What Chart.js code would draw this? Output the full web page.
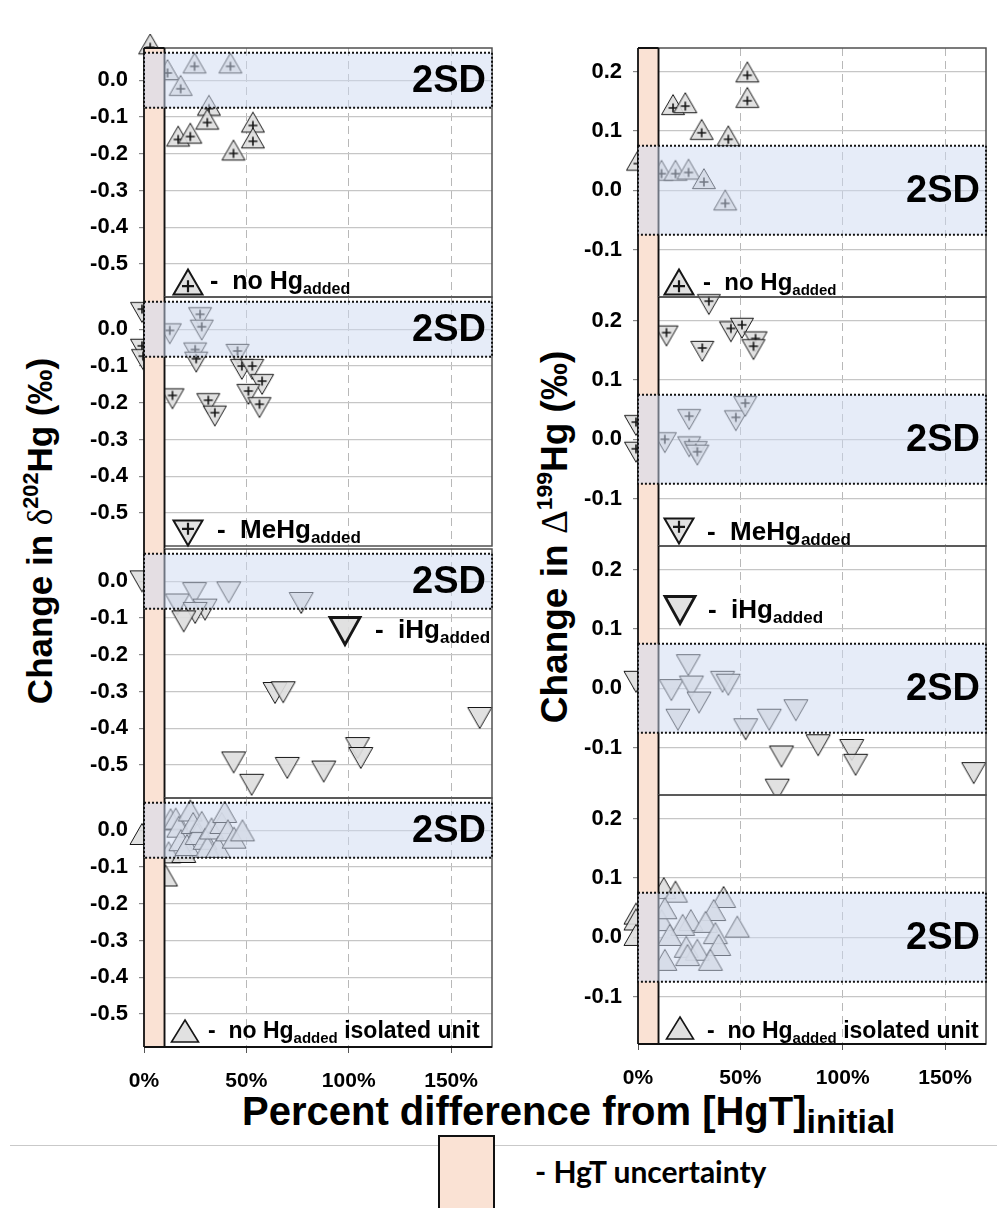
<!DOCTYPE html>
<html>
<head>
<meta charset="utf-8">
<script src="https://cdn.jsdelivr.net/npm/chart.js@4.4.1/dist/chart.umd.min.js"></script>
<style>
  html, body { margin: 0; padding: 0; background: #fff; overflow: hidden; }
  body { width: 997px; height: 1208px; position: relative; font-family: "Liberation Sans", Arial, sans-serif; }
  canvas.panel { position: absolute; }
  .txt { position: absolute; white-space: nowrap; font-weight: bold; color: #000; line-height: 1; }
  .txt .sub { position: relative; top: 5px; }
  .ytitle { position: absolute; white-space: nowrap; font-weight: bold; line-height: 1;
            transform: translate(-50%, -50%) rotate(-90deg); }
  .ytitle .greek { font-family: "Liberation Serif", serif; font-weight: normal; }
  .ytitle sup { font-size: 0.62em; vertical-align: 0.62em; }
  #xtitle { position: absolute; left: 242px; top: 1091px; font-size: 40px; font-weight: bold; line-height: 1; white-space: nowrap; }
  #xtitle .sub { font-size: 34px; position: relative; top: 8px; }
  #sep { position: absolute; left: 10px; right: 0; top: 1145px; height: 0; border-top: 1.5px solid #c9c9c9; }
  #hgtbox { position: absolute; left: 438px; top: 1135px; width: 57px; height: 90px; box-sizing: border-box;
            background: #fae2d4; border: 2px solid #111; }
  #hgtlabel { position: absolute; left: 535px; top: 1156px; font-family: Lato, "Open Sans", sans-serif;
              font-weight: bold; font-size: 30px; line-height: 1; white-space: nowrap; }
</style>
</head>
<body>

<div class="ytitle" style="left:39px; top:531px; font-size:35px;">Change in <span class="greek">δ</span><sup>202</sup>Hg (‰)</div>
<div class="ytitle" style="left:553px; top:537px; font-size:37px;">Change in <span class="greek">Δ</span><sup>199</sup>Hg (‰)</div>
<div id="xtitle">Percent difference from [HgT]<span class="sub">initial</span></div>
<div id="sep"></div>
<div id="hgtbox"></div>
<div id="hgtlabel">- HgT uncertainty</div>

<script>
// axis settings
const X_RANGE = [0, 170];
const X_TICKS = [0, 50, 100, 150];
const D202_RANGE = [-0.59, 0.088];
const D202_TICKS = [0.0, -0.1, -0.2, -0.3, -0.4, -0.5];
const D199_RANGE = [-0.18, 0.24];
const D199_TICKS = [0.2, 0.1, 0.0, -0.1];
const TWO_SD = 0.075;
const HGT_UNCERTAINTY = 10;

// δ202Hg, no Hg added
const noHg202X = [3, 11.5, 24.7, 42.2, 17.9, 31.7, 30.9, 16.7, 22.6, 53.2, 53.2, 43.7];
const noHg202Y = [0.09, 0.02, 0.038, 0.038, -0.023, -0.077, -0.115, -0.161, -0.153, -0.123, -0.166, -0.199];
// Δ199Hg, no Hg added
const noHg199X = [0, 11.5, 18.3, 24.7, 32.2, 42.6, 17.1, 23.1, 31.1, 44.1, 53.4, 53.4];
const noHg199Y = [0.045, 0.028, 0.028, 0.030, 0.014, -0.022, 0.139, 0.142, 0.097, 0.086, 0.151, 0.194];

// δ202Hg, MeHg added
const meHg202X = [-1, -1, -0.5, 27.4, 28.2, 12.6, 25, 25.5, 45.7, 47.8, 52.9, 57.7, 51, 56.4, 13.9, 31.4, 34.6];
const meHg202Y = [0.055, -0.045, -0.073, 0.041, 0.007, -0.003, -0.055, -0.08, -0.059, -0.1, -0.1, -0.141, -0.168, -0.204, -0.18, -0.193, -0.227];
// Δ199Hg, MeHg added
const meHg199X = [-1, -1, 13.1, 25, 28.2, 29, 25, 47.8, 52.4, 13.9, 31.4, 34.6, 45.4, 50.8, 57.4, 56.4];
const meHg199Y = [0.029, -0.016, 0.0, -0.007, -0.015, -0.021, 0.039, 0.037, 0.061, 0.180, 0.154, 0.233, 0.187, 0.193, 0.170, 0.157];

// δ202Hg, iHg added
const iHg202X = [-1, 16.3, 24.7, 41.4, 76.8, 29.8, 25, 19.4, 64, 68, 164, 43.8, 52.6, 70, 87.8, 104.3, 105.9];
const iHg202Y = [0.0, -0.063, -0.032, -0.030, -0.059, -0.077, -0.086, -0.109, -0.304, -0.302, -0.372, -0.493, -0.554, -0.508, -0.518, -0.454, -0.481];
// Δ199Hg, iHg added
const iHg199X = [-1, 24.6, 16.3, 26.1, 41.3, 44.1, 29.8, 19.5, 64.1, 77.1, 52.6, 70.1, 88, 104.4, 106.3, 164, 68];
const iHg199Y = [0.011, 0.039, -0.003, 0.003, 0.011, 0.006, -0.024, -0.053, -0.053, -0.037, -0.069, -0.115, -0.096, -0.104, -0.129, -0.143, -0.171];

// δ202Hg, no Hg added, isolated unit
const isoX202 = [-1, 12, 13, 15.5, 17, 18, 19.4, 21, 22.6, 24, 26, 28.2, 29.8, 31, 33, 36.2, 38, 39.4, 41, 44, 48.1, 10.5];
const isoY202 = [-0.01, -0.06, 0.03, 0.032, 0.01, -0.027, -0.059, -0.04, 0.054, 0.02, -0.01, 0.023, -0.023, -0.045, 0.005, -0.045, 0.02, 0.05, 0.0, -0.02, 0.0, -0.123];
// Δ199Hg, no Hg added, isolated unit
const isoX199 = [-1, -1, -1, 11.5, 12.6, 18.3, 41.8, 37, 13.1, 25.8, 33, 21.8, 48.5, 15.5, 37.8, 23.6, 29, 39.4, 13.1, 35.4, 24.2];
const isoY199 = [0.04, 0.03, 0.004, 0.029, 0.083, 0.077, 0.068, 0.046, 0.049, 0.029, 0.026, 0.021, 0.018, 0.004, 0.007, -0.016, -0.021, -0.013, -0.038, -0.038, -0.03];

// layout
const AXIS_W = 64, PLOT_W = 356, PLOT_H = 249;
const PAD_TOP = 14, PAD_RIGHT = 3, PAD_BOTTOM = 12, XAXIS_H = 46;
const FONT = '"Liberation Sans", Arial, sans-serif';

Chart.defaults.font.family = FONT;

// marker styles
const dataUpPlus = { w: 23, h: 20, lw: 1, dir: 1, plus: true, ps: 4.5, plw: 1.6 };
const dataDownPlus = { w: 23, h: 20, lw: 1, dir: -1, plus: true, ps: 4.5, plw: 1.6 };
const dataUp = { w: 24, h: 21, lw: 1, dir: 1, plus: false };
const dataDown = { w: 24, h: 21, lw: 1, dir: -1, plus: false };
const keyUpPlus = { w: 29, h: 25, lw: 2, dir: 1, plus: true, ps: 6, plw: 2.2 };
const keyDownPlus = { w: 29, h: 25, lw: 2, dir: -1, plus: true, ps: 6, plw: 2.2 };
const keyDown = { w: 30, h: 27, lw: 2.8, dir: -1, plus: false };
const keyUp = { w: 27, h: 22, lw: 1.6, dir: 1, plus: false };

function drawMarker(ctx, cx, cy, m) {
  // cx, cy = centre of the triangle's bounding box
  const apex = cy - m.dir * m.h / 2, base = cy + m.dir * m.h / 2;
  ctx.beginPath();
  ctx.moveTo(cx, apex);
  ctx.lineTo(cx + m.w / 2, base);
  ctx.lineTo(cx - m.w / 2, base);
  ctx.closePath();
  ctx.fillStyle = 'rgba(222,222,222,0.9)';
  ctx.fill();
  ctx.lineWidth = m.lw;
  ctx.lineJoin = 'miter';
  ctx.strokeStyle = '#161616';
  ctx.stroke();
  if (m.plus) {
    const py = cy + m.dir * m.h / 6;
    ctx.beginPath();
    ctx.moveTo(cx - m.ps, py); ctx.lineTo(cx + m.ps, py);
    ctx.moveTo(cx, py - m.ps); ctx.lineTo(cx, py + m.ps);
    ctx.lineWidth = m.plw;
    ctx.stroke();
  }
}

function markerImage(m) {
  const c = document.createElement('canvas');
  const S = Math.ceil(Math.max(m.w, m.h * 1.4)) + 4;
  c.width = S; c.height = S;
  // with a plus, the plus sits on the data point
  const cy = m.plus ? S / 2 - m.dir * m.h / 6 : S / 2;
  drawMarker(c.getContext('2d'), S / 2, cy, m);
  return c;
}

const panels = [
  { xs: noHg202X, ys: noHg202Y, range: D202_RANGE, ticks: D202_TICKS, marker: dataUpPlus, key: keyUpPlus, kdx: 44, kdy: 234,
    left: 144, top: 48, gap: 0, first: true },
  { xs: meHg202X, ys: meHg202Y, range: D202_RANGE, ticks: D202_TICKS, marker: dataDownPlus, key: keyDownPlus, kdx: 44, kdy: 236,
    left: 144, top: 297, gap: 3 },
  { xs: iHg202X, ys: iHg202Y, range: D202_RANGE, ticks: D202_TICKS, marker: dataDown, key: keyDown, kdx: 201, kdy: 82,
    left: 144, top: 549, gap: 0 },
  { xs: isoX202, ys: isoY202, range: D202_RANGE, ticks: D202_TICKS, marker: dataUp, key: keyUp, kdx: 41, kdy: 233,
    left: 144, top: 798, gap: 0, last: true },
  { xs: noHg199X, ys: noHg199Y, range: D199_RANGE, ticks: D199_TICKS, marker: dataUpPlus, key: keyUpPlus, kdx: 41, kdy: 234,
    left: 638, top: 48, gap: 0, first: true },
  { xs: meHg199X, ys: meHg199Y, range: D199_RANGE, ticks: D199_TICKS, marker: dataDownPlus, key: keyDownPlus, kdx: 41, kdy: 234,
    left: 638, top: 297, gap: 0 },
  { xs: iHg199X, ys: iHg199Y, range: D199_RANGE, ticks: D199_TICKS, marker: dataDown, key: keyDown, kdx: 42, kdy: 64,
    left: 638, top: 546, gap: 0 },
  { xs: isoX199, ys: isoY199, range: D199_RANGE, ticks: D199_TICKS, marker: dataUp, key: keyUp, kdx: 42, kdy: 233,
    left: 638, top: 795, gap: 0, last: true }
];

// key labels inside the panels: [main, subscript, tail], left, baseline, font size
const keyLabels = [
  ['no Hg', 'added', '', 210, 289, 25],
  ['MeHg', 'added', '', 217, 538, 26],
  ['iHg', 'added', '', 375, 638, 26],
  ['no Hg', 'added', ' isolated unit', 208, 1038, 23],
  ['no Hg', 'added', '', 703, 290, 24],
  ['MeHg', 'added', '', 707, 540, 26],
  ['iHg', 'added', '', 708, 618, 26],
  ['no Hg', 'added', ' isolated unit', 707, 1038, 23]
];

function fmtY(v) {
  return Math.abs(v) < 1e-9 ? '0.0' : v.toFixed(1);
}

function decorPlugin(p) {
  return {
    id: 'decor',
    afterDatasetsDraw(chart) {
      const { ctx, chartArea: a, scales: { x, y } } = chart;
      const x0 = x.getPixelForValue(0);
      const xu = x.getPixelForValue(HGT_UNCERTAINTY);
      const yTop = y.getPixelForValue(TWO_SD), yBot = y.getPixelForValue(-TWO_SD);
      const barBottom = a.bottom + p.gap;
      ctx.save();
      // panel frame
      ctx.strokeStyle = '#505050';
      ctx.lineWidth = 1.5;
      ctx.strokeRect(xu, a.top, a.right - xu, a.bottom - a.top);
      // HgT uncertainty bar
      ctx.fillStyle = '#fae2d4';
      ctx.fillRect(x0, a.top, xu - x0, barBottom - a.top);
      ctx.strokeStyle = '#111';
      ctx.lineWidth = 1.8;
      ctx.beginPath();
      ctx.moveTo(x0, a.top); ctx.lineTo(x0, barBottom);
      ctx.moveTo(xu, a.top); ctx.lineTo(xu, barBottom);
      if (p.first) { ctx.moveTo(x0, a.top); ctx.lineTo(xu, a.top); }
      if (p.last) { ctx.moveTo(x0, a.bottom); ctx.lineTo(a.right, a.bottom); }
      ctx.stroke();
      // 2SD band
      ctx.fillStyle = 'rgba(205,218,242,0.5)';
      ctx.fillRect(x0, yTop, a.right - x0, yBot - yTop);
      ctx.setLineDash([2, 2]);
      ctx.strokeStyle = '#111';
      ctx.lineWidth = 2;
      ctx.strokeRect(x0, yTop, a.right - x0, yBot - yTop);
      ctx.setLineDash([]);
      ctx.fillStyle = '#000';
      ctx.font = 'bold 38px ' + FONT;
      ctx.textAlign = 'right';
      ctx.textBaseline = 'middle';
      ctx.fillText('2SD', a.right - 6, y.getPixelForValue(0) + 1);
      // key marker
      drawMarker(ctx, a.left + p.kdx, a.top + p.kdy, p.key);
      ctx.restore();
    }
  };
}

function makePanel(p) {
  const canvas = document.createElement('canvas');
  canvas.className = 'panel';
  const h = PAD_TOP + PLOT_H + (p.last ? XAXIS_H : PAD_BOTTOM);
  canvas.width = AXIS_W + PLOT_W + PAD_RIGHT;
  canvas.height = h;
  canvas.style.left = (p.left - AXIS_W) + 'px';
  canvas.style.top = (p.top - PAD_TOP) + 'px';
  document.body.appendChild(canvas);

  new Chart(canvas, {
    type: 'scatter',
    data: {
      datasets: [{
        data: p.xs.map((v, i) => ({ x: v, y: p.ys[i] })),
        pointStyle: markerImage(p.marker),
        pointRadius: 10,
        pointHoverRadius: 10,
        clip: { left: 16, top: PAD_TOP, right: PAD_RIGHT, bottom: 0 }
      }]
    },
    options: {
      responsive: false,
      animation: false,
      events: [],
      layout: { padding: { top: PAD_TOP, right: PAD_RIGHT, bottom: p.last ? 0 : PAD_BOTTOM, left: 0 } },
      plugins: { legend: { display: false }, tooltip: { enabled: false } },
      scales: {
        x: {
          type: 'linear',
          min: X_RANGE[0],
          max: X_RANGE[1],
          afterBuildTicks: s => { s.ticks = X_TICKS.map(v => ({ value: v })); },
          afterFit: s => {
            s.height = p.last ? XAXIS_H : 0;
            s.paddingLeft = 0; s.paddingRight = 0;
          },
          ticks: {
            display: !!p.last,
            callback: v => v + '%',
            font: { size: 21, weight: 'bold' },
            color: '#000',
            padding: 16,
            maxRotation: 0,
            autoSkip: false
          },
          grid: { color: '#b8b8b8', lineWidth: 1, drawTicks: !!p.last, tickLength: 6, tickColor: '#555' },
          border: { display: false, dash: [8, 5] }
        },
        y: {
          type: 'linear',
          min: p.range[0],
          max: p.range[1],
          afterBuildTicks: s => { s.ticks = p.ticks.map(v => ({ value: v })); },
          afterFit: s => {
            s.width = AXIS_W;
            s.paddingTop = 0; s.paddingBottom = 0;
          },
          ticks: {
            callback: fmtY,
            font: { size: 22, weight: 'bold' },
            color: '#000',
            padding: 11
          },
          grid: { color: '#c6c6c6', lineWidth: 1.2, tickLength: 5, tickColor: '#888' },
          border: { display: false }
        }
      }
    },
    plugins: [decorPlugin(p)]
  });
}

panels.forEach(makePanel);

keyLabels.forEach(([main, sub, tail, left, base, fs]) => {
  const d = document.createElement('div');
  d.className = 'txt';
  d.style.left = left + 'px';
  d.style.top = (base - 0.8465 * fs) + 'px';
  d.style.fontSize = fs + 'px';
  d.innerHTML = '-\u00a0\u00a0' + main + '<span class="sub" style="font-size:' + Math.round(fs * 0.64) + 'px">' + sub + '</span>' + tail;
  document.body.appendChild(d);
});
</script>
</body>
</html>
